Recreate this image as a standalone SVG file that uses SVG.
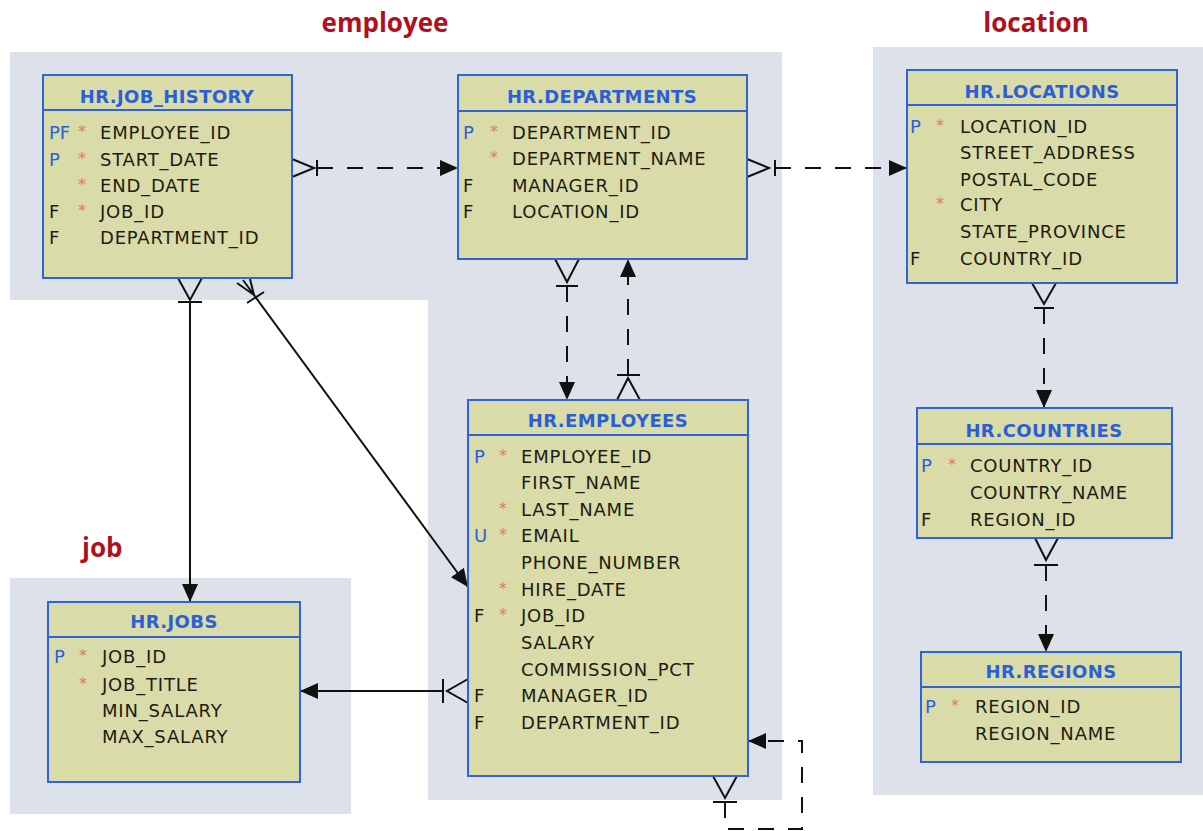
<svg xmlns="http://www.w3.org/2000/svg" width="1203" height="831" viewBox="0 0 1203 831">
<defs>
<marker id="arr" viewBox="0 0 18 16" refX="18" refY="8" markerWidth="18" markerHeight="16" markerUnits="userSpaceOnUse" orient="auto"><path d="M0,0 L18,8 L0,16 Z" fill="#111"/></marker>
</defs>
<style>
.area{fill:#dde2ea}
.box{fill:#d9dba8;stroke:#2f63d6;stroke-width:2}
.hdr{stroke:#2f63d6;stroke-width:2}
.title{font-family:"DejaVu Sans",sans-serif;font-weight:bold;font-size:18px;letter-spacing:0.4px;fill:#2b5fd8;text-anchor:middle}
.col{font-family:"DejaVu Sans",sans-serif;font-size:18px;letter-spacing:0.8px;fill:#1c1c14}
.key{font-family:"DejaVu Sans",sans-serif;font-size:18px;fill:#2b5fd8}
.fk{font-family:"DejaVu Sans",sans-serif;font-size:18px;fill:#1c1c14}
.star{font-family:"DejaVu Sans",sans-serif;font-size:16px;fill:#e07a5a}
.grp{font-family:"Open Sans",sans-serif;font-weight:bold;font-size:26px;fill:#b0101e}
.ln{fill:none;stroke:#111;stroke-width:2}
.dash{stroke-dasharray:16 14}
</style>
<rect width="1203" height="831" fill="#ffffff"/>
<g id="areas">
<path class="area" d="M10,52 H782 V800 H428 V300 H10 Z"/>
<rect class="area" x="873" y="47" width="330" height="748"/>
<rect class="area" x="10" y="578" width="341" height="236"/>
<text class="grp" x="385" y="32" text-anchor="middle">employee</text>
<text class="grp" x="1036" y="32" text-anchor="middle">location</text>
<text class="grp" x="82" y="557">job</text>
</g>
<g id="connectors">
<path class="ln" d="M292,159 L314,168 L292,177 M317,160 V176"/>
<path class="ln dash" d="M317,168 H458" marker-end="url(#arr)"/>
<path class="ln" d="M747,159 L769,168 L747,177 M775,160 V176"/>
<path class="ln dash" d="M775,168 H907" marker-end="url(#arr)"/>
<path class="ln" d="M555,259 L567,282 L579,259 M556,286 H578"/>
<path class="ln dash" d="M567,286 V400" marker-end="url(#arr)"/>
<path class="ln" d="M617,400 L628,378 L640,400 M617,375 H640"/>
<path class="ln dash" d="M628,375 V259" marker-end="url(#arr)"/>
<path class="ln" d="M178,278 L190,300 L202,278 M178,302 H202"/>
<path class="ln" d="M190,302 V602" marker-end="url(#arr)"/>
<path class="ln" d="M237,283 L254,295 L250,279 M243,280 L254,295 M247,303 L264,292"/>
<path class="ln" d="M254,295 L468,587" marker-end="url(#arr)"/>
<path class="ln" d="M468,679 L447,691 L468,703 M443,679 V703"/>
<path class="ln" d="M443,691 H300" marker-end="url(#arr)"/>
<path class="ln" d="M713,776 L725,798 L737,776 M713,802 H737"/>
<path class="ln dash" d="M725,802 V829 H802 V741 H748" marker-end="url(#arr)"/>
<path class="ln" d="M1032,283 L1044,304 L1056,283 M1034,308 H1054"/>
<path class="ln dash" d="M1044,308 V408" marker-end="url(#arr)"/>
<path class="ln" d="M1035,538 L1046,560 L1058,538 M1034,565 H1058"/>
<path class="ln dash" d="M1046,565 V652" marker-end="url(#arr)"/>
</g>
<g id="job_history">
<rect class="box" x="43" y="75" width="249" height="203"/>
<line class="hdr" x1="43" y1="110" x2="292" y2="110"/>
<text class="title" x="167" y="103">HR.JOB_HISTORY</text>
<text class="key" x="49" y="139">PF</text><text class="star" x="78" y="137">*</text><text class="col" x="100" y="139">EMPLOYEE_ID</text>
<text class="key" x="49" y="166">P</text><text class="star" x="78" y="164">*</text><text class="col" x="100" y="166">START_DATE</text>
<text class="star" x="78" y="190">*</text><text class="col" x="100" y="192">END_DATE</text>
<text class="fk" x="49" y="218">F</text><text class="star" x="78" y="216">*</text><text class="col" x="100" y="218">JOB_ID</text>
<text class="fk" x="49" y="244">F</text><text class="col" x="100" y="244">DEPARTMENT_ID</text>
</g>
<g id="departments">
<rect class="box" x="458" y="75" width="289" height="184"/>
<line class="hdr" x1="458" y1="111" x2="747" y2="111"/>
<text class="title" x="602" y="103">HR.DEPARTMENTS</text>
<text class="key" x="463" y="139">P</text><text class="star" x="490" y="137">*</text><text class="col" x="512" y="139">DEPARTMENT_ID</text>
<text class="star" x="490" y="163">*</text><text class="col" x="512" y="165">DEPARTMENT_NAME</text>
<text class="fk" x="463" y="192">F</text><text class="col" x="512" y="192">MANAGER_ID</text>
<text class="fk" x="463" y="218">F</text><text class="col" x="512" y="218">LOCATION_ID</text>
</g>
<g id="locations">
<rect class="box" x="907" y="70" width="270" height="213"/>
<line class="hdr" x1="907" y1="105" x2="1177" y2="105"/>
<text class="title" x="1042" y="98">HR.LOCATIONS</text>
<text class="key" x="910" y="133">P</text><text class="star" x="936" y="131">*</text><text class="col" x="960" y="133">LOCATION_ID</text>
<text class="col" x="960" y="159">STREET_ADDRESS</text>
<text class="col" x="960" y="186">POSTAL_CODE</text>
<text class="star" x="936" y="209">*</text><text class="col" x="960" y="211">CITY</text>
<text class="col" x="960" y="238">STATE_PROVINCE</text>
<text class="fk" x="910" y="265">F</text><text class="col" x="960" y="265">COUNTRY_ID</text>
</g>
<g id="employees">
<rect class="box" x="468" y="400" width="280" height="376"/>
<line class="hdr" x1="468" y1="435" x2="748" y2="435"/>
<text class="title" x="608" y="427">HR.EMPLOYEES</text>
<text class="key" x="474" y="463">P</text><text class="star" x="499" y="461">*</text><text class="col" x="521" y="463">EMPLOYEE_ID</text>
<text class="col" x="521" y="489">FIRST_NAME</text>
<text class="star" x="499" y="514">*</text><text class="col" x="521" y="516">LAST_NAME</text>
<text class="key" x="474" y="542">U</text><text class="star" x="499" y="540">*</text><text class="col" x="521" y="542">EMAIL</text>
<text class="col" x="521" y="569">PHONE_NUMBER</text>
<text class="star" x="499" y="594">*</text><text class="col" x="521" y="596">HIRE_DATE</text>
<text class="fk" x="474" y="622">F</text><text class="star" x="499" y="620">*</text><text class="col" x="521" y="622">JOB_ID</text>
<text class="col" x="521" y="649">SALARY</text>
<text class="col" x="521" y="676">COMMISSION_PCT</text>
<text class="fk" x="474" y="702">F</text><text class="col" x="521" y="702">MANAGER_ID</text>
<text class="fk" x="474" y="729">F</text><text class="col" x="521" y="729">DEPARTMENT_ID</text>
</g>
<g id="countries">
<rect class="box" x="917" y="408" width="255" height="130"/>
<line class="hdr" x1="917" y1="444" x2="1172" y2="444"/>
<text class="title" x="1044" y="437">HR.COUNTRIES</text>
<text class="key" x="921" y="472">P</text><text class="star" x="948" y="470">*</text><text class="col" x="970" y="472">COUNTRY_ID</text>
<text class="col" x="970" y="499">COUNTRY_NAME</text>
<text class="fk" x="921" y="526">F</text><text class="col" x="970" y="526">REGION_ID</text>
</g>
<g id="regions">
<rect class="box" x="921" y="652" width="260" height="110"/>
<line class="hdr" x1="921" y1="687" x2="1181" y2="687"/>
<text class="title" x="1051" y="678">HR.REGIONS</text>
<text class="key" x="925" y="713">P</text><text class="star" x="951" y="711">*</text><text class="col" x="975" y="713">REGION_ID</text>
<text class="col" x="975" y="740">REGION_NAME</text>
</g>
<g id="jobs">
<rect class="box" x="48" y="602" width="252" height="180"/>
<line class="hdr" x1="48" y1="637" x2="300" y2="637"/>
<text class="title" x="174" y="628">HR.JOBS</text>
<text class="key" x="54" y="663">P</text><text class="star" x="79" y="661">*</text><text class="col" x="102" y="663">JOB_ID</text>
<text class="star" x="79" y="689">*</text><text class="col" x="102" y="691">JOB_TITLE</text>
<text class="col" x="102" y="717">MIN_SALARY</text>
<text class="col" x="102" y="743">MAX_SALARY</text>
</g>
</svg>
